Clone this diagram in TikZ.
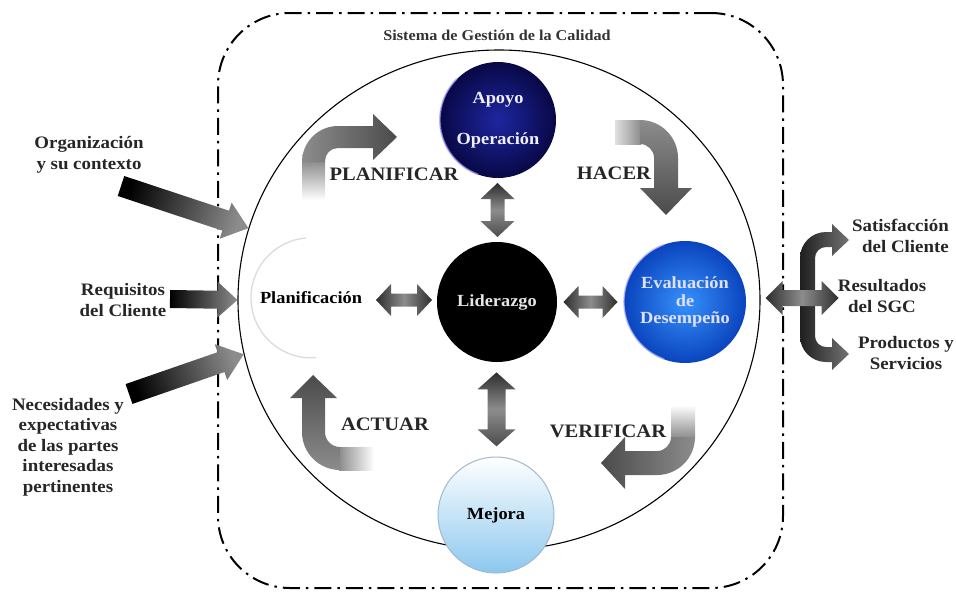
\documentclass[tikz,border=0pt]{standalone}
\usepackage{fontspec}
\setmainfont{Liberation Serif}[FakeStretch=1.08]
\usetikzlibrary{shapes.geometric,calc}

\definecolor{navyin}{RGB}{30,38,160}
\definecolor{navyout}{RGB}{8,8,70}
\definecolor{evalin}{RGB}{55,145,252}
\definecolor{evalout}{RGB}{10,68,190}
\definecolor{mejorabot}{RGB}{140,200,238}
\definecolor{mejoraedge}{RGB}{160,185,205}
\definecolor{arrowdark}{RGB}{75,75,75}
\definecolor{pdcamid}{RGB}{140,140,140}

% horizontal double block arrow: centre, half length, head half width, shaft half width, head length
\newcommand\hdblarrow[5]{%
  \path[dblh, shift={#1}] (-#2,0) -- (-#2+#5,-#3) -- (-#2+#5,-#4) -- (#2-#5,-#4) -- (#2-#5,-#3)
    -- (#2,0) -- (#2-#5,#3) -- (#2-#5,#4) -- (-#2+#5,#4) -- (-#2+#5,#3) -- cycle;}
% vertical double block arrow, same arguments
\newcommand\vdblarrow[5]{%
  \path[dblv, shift={#1}] (0,-#2) -- (#3,-#2+#5) -- (#4,-#2+#5) -- (#4,#2-#5) -- (#3,#2-#5)
    -- (0,#2) -- (-#3,#2-#5) -- (-#4,#2-#5) -- (-#4,-#2+#5) -- (-#3,-#2+#5) -- cycle;}
% straight block arrow: tail, tip, shaft half width, head half width, head length, style
\newcommand\blockarrow[6]{%
  \coordinate (#1-hb) at ($(#2)!#5!(#1)$);
  \path[#6] ($(#1)!#3!90:(#2)$) -- ($(#1-hb)!#3!90:(#2)$) -- ($(#1-hb)!#4!90:(#2)$) -- (#2)
    -- ($(#1-hb)!#4!-90:(#2)$) -- ($(#1-hb)!#3!-90:(#2)$) -- ($(#1)!#3!-90:(#2)$) -- cycle;}

\tikzset{
  frame/.style={draw, line width=2pt, dash pattern=on 17pt off 6pt on 2.5pt off 6pt,
    rounded corners=72pt, minimum width=565pt, minimum height=575pt, inner sep=0pt},
  ttl/.style={font=\bfseries\fontsize{15}{18}\selectfont, inner sep=0pt, text=black!80},
  lbl/.style={font=\bfseries\fontsize{17.5}{20.5}\selectfont, align=center, inner sep=0pt, text=black!85},
  pdca/.style={font=\bfseries\fontsize{19}{22}\selectfont, inner sep=0pt, text=black!85},
  orb/.style={circle, minimum size=#1, inner sep=0pt, align=center,
    font=\bfseries\fontsize{17}{17.5}\selectfont},
  dblh/.style={left color=black!82, right color=black!82, middle color=black!45},
  dblv/.style={top color=black!82, bottom color=black!70, middle color=black!45},
  inarrow/.style={top color=black, bottom color=black!45, shading angle=#1},
  bracket/.style={left color=black!88, right color=black!55},
}

\begin{document}
\begin{tikzpicture}[x=1pt,y=-1pt]
\useasboundingbox (0,0) rectangle (956,592);

% quality management system boundary and title
\node[frame] (sgc) at (500.5,300.5) {};
\node[ttl] (title) at (497,35) {Sistema de Gestión de la Calidad};

% organisation circle
\node[draw, ellipse, line width=1.1pt, minimum width=522pt, minimum height=500pt, inner sep=0pt] (qms) at (499,300) {};

% the five process discs
\node[orb=116pt, inner color=navyin, outer color=navyout, text=white!94!blue] (apoyo) at (498,120) {Apoyo\\[24pt]Operación};
\draw[blue!40!white, line width=1.6pt, opacity=.75] (apoyo.135) arc[start angle=135, end angle=250, radius=58pt];
\node[orb=120pt, fill=black, text=white!90!black] (lead) at (497,302) {Liderazgo};
\node[orb=122pt, inner color=evalin, outer color=evalout, text=white!88!blue] (eval) at (685,302) {Evaluación\\de\\Desempeño};
\draw[blue!30!white, line width=1.4pt, opacity=.8] (eval.110) arc[start angle=110, end angle=250, radius=61pt];
\node[orb=116pt, top color=white, bottom color=mejorabot, draw=mejoraedge, line width=1pt] (mejora) at (496,515) {Mejora};
\node[orb=120pt, fill=white] (plan) at (311,298) {Planificación};
\draw[gray!28, line width=1.3pt] (plan.95) arc[start angle=95, end angle=275, radius=60pt];

% links between leadership and the other processes
\vdblarrow{($(apoyo.south)!.5!(lead.north)$)}{27}{17}{7}{16}
\vdblarrow{($(lead.south)!.5!(mejora.north)$)}{37}{19}{9}{17}
\hdblarrow{($(plan.east)!.5!(lead.west)$)}{28}{16}{6.5}{15}
\hdblarrow{($(lead.east)!.5!(eval.west)$)}{27}{16}{6.5}{15}

% PDCA cycle arrows: a fading straight tail and a shaded bend with its head
\path[top color=pdcamid, bottom color=white] (302,200) rectangle (325,161);
\path[left color=pdcamid, right color=arrowdark] (302,162) .. controls (302,142.1) and (318.1,126) .. (338,126)
  -- (373,126) -- (373,114) -- (397,137) -- (373,160) -- (373,148) -- (338,148)
  .. controls (330.8,148) and (325,153.8) .. (325,161) -- (325,162) -- cycle;

\path[left color=black!12, right color=pdcamid] (615,120) rectangle (641,144);
\path[top color=pdcamid, bottom color=arrowdark] (640,120) .. controls (661,120) and (678,137) .. (678,158)
  -- (678,188) -- (692,188) -- (666,215) -- (640,188) -- (654,188) -- (654,158)
  .. controls (654,150.3) and (647.7,144) .. (640,144) -- cycle;

\path[top color=white, bottom color=pdcamid] (671,405) rectangle (695,438);
\path[right color=pdcamid, left color=arrowdark] (695,437) .. controls (695,458) and (678,475) .. (657,475)
  -- (625,475) -- (625,489) -- (601,463) -- (625,437) -- (625,451) -- (657,451)
  .. controls (664.7,451) and (671,444.7) .. (671,437) -- cycle;

\path[left color=pdcamid, right color=white] (339,447) rectangle (374,470);
\path[bottom color=pdcamid, top color=arrowdark] (340,470) .. controls (319,470) and (302,453) .. (302,432)
  -- (302,398) -- (290,398) -- (313,375) -- (337,398) -- (325,398) -- (325,432)
  .. controls (325,440.3) and (331.7,447) .. (340,447) -- cycle;

\node[pdca] (planificar) at (394,174) {PLANIFICAR};
\node[pdca] (hacer) at (614,173) {HACER};
\node[pdca] (actuar) at (385,424) {ACTUAR};
\node[pdca] (verificar) at (608,431) {VERIFICAR};

% inputs
\node[lbl] (org) at (89,155) {Organización\\y su contexto};
\node[lbl] (req) at (123,300) {Requisitos\\del Cliente};
\node[lbl] (nec) at (68,447) {Necesidades y\\expectativas\\de las partes\\interesadas\\pertinentes};
\coordinate (orgtail) at (121,186);
\coordinate (reqtail) at (170,299);
\coordinate (nectail) at (129,394);
\blockarrow{orgtail}{qms.164}{10.5pt}{19pt}{24pt}{inarrow=72}
\blockarrow{reqtail}{qms.180}{9pt}{18pt}{20pt}{inarrow=90}
\blockarrow{nectail}{qms.192}{10.5pt}{19pt}{24pt}{inarrow=109}

% outputs
\path[bracket] (800,297) -- (800,258) .. controls (800,243.6) and (811.6,232) .. (826,232)
  -- (832,232) -- (832,224) -- (849,240) -- (832,256) -- (832,247) -- (826,247)
  .. controls (819.9,247) and (815,251.9) .. (815,258) -- (815,297) -- cycle;
\path[bracket] (800,297) -- (800,336) .. controls (800,350.4) and (811.6,362) .. (826,362)
  -- (832,362) -- (832,370) -- (849,354) -- (832,338) -- (832,347) -- (826,347)
  .. controls (819.9,347) and (815,342.1) .. (815,336) -- (815,297) -- cycle;
\hdblarrow{($(qms.east)+(41.5,-2)$)}{36.5}{17}{8}{17}

\node[lbl, anchor=east, align=right] (sat) at (949,236) {Satisfacción\\del Cliente};
\node[lbl] (res) at (882,296) {Resultados\\del SGC};
\node[lbl] (prod) at (906,353) {Productos y\\Servicios};
\end{tikzpicture}
\end{document}
